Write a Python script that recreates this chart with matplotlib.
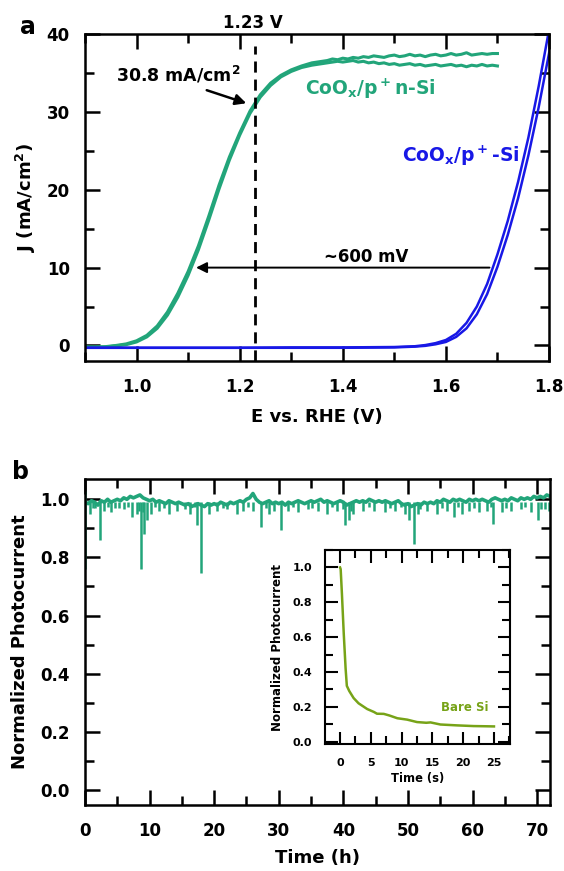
import numpy as np
import matplotlib
matplotlib.use("Agg")
import matplotlib.pyplot as plt
from matplotlib.ticker import MultipleLocator

plt.rcParams['font.family'] = ['DejaVu Sans']
plt.rcParams['font.weight'] = 'bold'
plt.rcParams['axes.labelweight'] = 'bold'
plt.rcParams['mathtext.fontset'] = 'dejavusans'
plt.rcParams['mathtext.default'] = 'bf'

green = '#22a57a'
blue = '#1818e6'
olive = '#77a318'

# --- panel a: J-E curves ---
rise_E = [0.90, 0.92, 0.94, 0.96, 0.98, 1.00, 1.02, 1.04, 1.06, 1.08, 1.10, 1.12,
          1.14, 1.16, 1.18, 1.20, 1.22, 1.24, 1.26, 1.28, 1.30, 1.32, 1.34, 1.36]
plateau_E = np.round(np.arange(1.37, 1.705, 0.01), 2)
green_E = np.concatenate([rise_E, plateau_E])

green_J_up = [-0.2, -0.2, -0.15, 0.0, 0.2, 0.6, 1.3, 2.5, 4.3, 6.7, 9.5, 12.8,
              16.6, 20.6, 24.2, 27.3, 30.1, 32.2, 33.7, 34.7, 35.4, 35.9, 36.3, 36.5,
              36.6, 36.8, 36.7, 36.9, 36.8, 37.0, 36.9, 37.1, 37.0, 37.2,
              37.1, 37.0, 37.2, 37.3, 37.1, 37.2, 37.4, 37.2, 37.3, 37.1,
              37.3, 37.4, 37.2, 37.3, 37.5, 37.3, 37.4, 37.6, 37.3, 37.4,
              37.5, 37.4, 37.5, 37.5]
green_J_dn = [-0.2, -0.2, -0.2, -0.05, 0.1, 0.45, 1.1, 2.2, 3.9, 6.2, 9.0, 12.3,
              16.1, 20.1, 23.8, 27.0, 29.8, 31.9, 33.4, 34.5, 35.2, 35.7, 36.0, 36.2,
              36.3, 36.4, 36.5, 36.4, 36.5, 36.6, 36.4, 36.5, 36.3, 36.4,
              36.2, 36.3, 36.1, 36.2, 36.0, 36.1, 36.2, 36.0, 36.1, 35.9,
              36.0, 36.1, 35.9, 36.0, 36.1, 35.9, 36.0, 35.8, 36.0, 35.9,
              36.1, 35.9, 36.0, 35.9]

blue_E = [0.90, 1.00, 1.10, 1.20, 1.30, 1.40, 1.50, 1.54, 1.56, 1.58, 1.60, 1.62,
          1.64, 1.66, 1.68, 1.70, 1.72, 1.74, 1.76, 1.78, 1.80, 1.82]
blue_J1 = [-0.3, -0.3, -0.3, -0.3, -0.25, -0.25, -0.2, -0.1, 0.05, 0.3, 0.7, 1.5,
           2.9, 5.0, 7.9, 11.7, 16.0, 21.0, 26.7, 33.3, 40.5, 48.0]
blue_J2 = [-0.3, -0.3, -0.3, -0.3, -0.3, -0.3, -0.25, -0.15, -0.05, 0.15, 0.45, 1.1,
           2.2, 4.0, 6.6, 10.1, 14.2, 18.9, 24.4, 30.6, 37.5, 45.0]

# --- panel b: stability ---
stab_t = np.arange(0, 72.01, 0.5)
stab_j = [0.99, 0.985, 0.995, 0.99, 0.98, 0.995, 0.99, 1.0, 0.99, 0.995,
          1.0, 0.995, 1.005, 1.0, 1.01, 1.005, 1.01, 1.015, 1.005, 1.0,
          0.995, 1.0, 0.99, 0.995, 0.99, 0.985, 0.995, 0.99, 0.985, 0.99,
          0.985, 0.98, 0.985, 0.975, 0.98, 0.985, 0.98, 0.975, 0.985, 0.98,
          0.985, 0.98, 0.99, 0.985, 0.98, 0.99, 0.985, 0.99, 0.995, 0.99,
          1.0, 1.005, 1.02, 1.0, 0.99, 0.985, 0.99, 0.995, 0.985, 0.99,
          0.985, 0.99, 0.98, 0.99, 0.985, 0.99, 0.995, 0.99, 0.985, 0.99,
          0.995, 0.99, 0.995, 1.0, 0.99, 0.995, 0.99, 0.985, 0.99, 0.995,
          0.99, 0.98, 0.985, 0.99, 0.995, 0.99, 0.995, 0.99, 1.0, 0.995,
          0.99, 0.995, 0.99, 0.995, 0.99, 0.985, 0.99, 0.995, 0.985, 0.98,
          0.985, 0.975, 0.98, 0.985, 0.98, 0.99, 0.985, 0.99, 0.985, 0.995,
          0.99, 1.0, 0.995, 0.99, 1.0, 0.995, 1.0, 0.995, 0.99, 1.0,
          0.995, 1.0, 0.995, 1.0, 0.995, 0.99, 1.0, 1.005, 1.0, 0.995,
          1.0, 0.995, 1.005, 1.0, 0.995, 1.005, 1.0, 1.005, 1.0, 1.01,
          1.005, 1.01, 1.005, 1.015, 1.01]

spike_t = [0.05, 0.8, 1.5, 2.3, 3.0, 4.0, 5.2, 6.0, 7.3, 8.0, 8.7, 9.2, 9.6,
           10.2, 11.5, 13.0, 14.3, 15.5, 16.2, 17.3, 18.0, 19.2, 20.5, 22.0,
           23.5, 24.5, 26.0, 27.3, 28.5, 29.2, 30.4, 31.5, 33.0, 34.5, 36.0,
           37.5, 39.0, 40.3, 40.8, 41.5, 43.0, 44.8, 46.5, 48.0, 49.5, 50.2,
           50.9, 51.5, 53.0, 54.5, 56.0, 57.2, 58.3, 59.5, 61.0, 62.2, 63.2,
           64.5, 66.0, 67.5, 69.0, 70.1, 71.3, 71.9,
           1.2, 3.5, 4.6, 6.6, 8.4, 9.0, 10.8, 12.2, 17.0, 21.3, 25.2, 28.0,
           32.2, 35.2, 38.3, 40.0, 41.2, 44.0, 47.2, 49.0, 51.8, 55.2, 57.8,
           60.3, 62.8, 65.2, 68.2, 70.6]
spike_lo = [0.76, 0.95, 0.97, 0.86, 0.96, 0.955, 0.97, 0.965, 0.94, 0.95, 0.76,
            0.88, 0.93, 0.95, 0.96, 0.95, 0.96, 0.965, 0.95, 0.91, 0.745, 0.95,
            0.96, 0.965, 0.95, 0.96, 0.96, 0.905, 0.95, 0.96, 0.895, 0.96, 0.955,
            0.965, 0.96, 0.95, 0.96, 0.91, 0.93, 0.95, 0.96, 0.96, 0.955, 0.96,
            0.95, 0.93, 0.845, 0.95, 0.96, 0.95, 0.96, 0.94, 0.95, 0.96, 0.955,
            0.96, 0.915, 0.955, 0.96, 0.965, 0.955, 0.93, 0.965, 0.96,
            0.97, 0.975, 0.97, 0.975, 0.96, 0.955, 0.975, 0.97, 0.975, 0.97,
            0.975, 0.97, 0.975, 0.97, 0.975, 0.965, 0.96, 0.975, 0.97, 0.975,
            0.965, 0.97, 0.975, 0.97, 0.975, 0.97, 0.975, 0.965]
spike_hi = [1.03] + [0.99] * (len(spike_t) - 1)

# --- inset: bare Si ---
bare_t = [0, 0.1, 0.3, 0.6, 0.9, 1.1, 1.5, 2.2, 3.0, 4.4, 5.5, 6.0, 7.1, 8.0,
          9.3, 10.9, 12.5, 14.0, 14.7, 16.3, 19.0, 21.7, 23.5, 25.0]
bare_j = [1.0, 0.99, 0.85, 0.62, 0.42, 0.32, 0.29, 0.25, 0.22, 0.187, 0.17, 0.16,
          0.159, 0.15, 0.134, 0.126, 0.112, 0.108, 0.11, 0.098, 0.093, 0.089,
          0.088, 0.087]


def style(ax, lsize=12, L=11, Lm=6.5, pad=11, padx=12, lw=1.8):
    for s in ax.spines.values():
        s.set_linewidth(lw)
    ax.tick_params(which='both', direction='in', top=True, right=True, width=lw)
    ax.tick_params(which='major', length=L, labelsize=lsize)
    ax.tick_params(which='minor', length=Lm)
    ax.tick_params(axis='y', pad=pad)
    ax.tick_params(axis='x', pad=padx)


fig = plt.figure(figsize=(5.64, 8.71), dpi=100)

# panel a
ax1 = fig.add_axes([0.1507, 0.5855, 0.8227, 0.3754])
ax1.plot(green_E, green_J_up, color=green, lw=2.2)
ax1.plot(green_E, green_J_dn, color=green, lw=2.2)
ax1.plot(blue_E, blue_J1, color=blue, lw=1.8)
ax1.plot(blue_E, blue_J2, color=blue, lw=1.8)
ax1.plot([1.23, 1.23], [-2, 38.5], color='k', lw=2, ls=(0, (4, 2.5)))
ax1.annotate('', xy=(1.11, 10), xytext=(1.69, 10),
             arrowprops=dict(arrowstyle='-|>', color='k', lw=1.4, mutation_scale=16))
ax1.annotate('', xy=(1.218, 31.0), xytext=(1.131, 32.9),
             arrowprops=dict(arrowstyle='-|>', color='k', lw=1.8, mutation_scale=16))
ax1.text(1.445, 11.3, '~600 mV', ha='center', va='center', fontsize=12)
ax1.text(1.08, 34.7, '30.8 mA/cm$^2$', ha='center', va='center', fontsize=12.5)
ax1.text(1.225, 41.4, '1.23 V', ha='center', va='center', fontsize=12, clip_on=False)
ax1.text(1.454, 32.9, 'CoO$_x$/p$^+$n-Si', color=green, ha='center', va='center', fontsize=13.5)
ax1.text(1.629, 24.4, 'CoO$_x$/p$^+$-Si', color=blue, ha='center', va='center', fontsize=13.5)
ax1.set_xlim(0.9, 1.8)
ax1.set_ylim(-2, 40)
ax1.xaxis.set_major_locator(MultipleLocator(0.2))
ax1.xaxis.set_minor_locator(MultipleLocator(0.1))
ax1.yaxis.set_major_locator(MultipleLocator(10))
ax1.yaxis.set_minor_locator(MultipleLocator(5))
style(ax1)
ax1.set_xlabel('E vs. RHE (V)', fontsize=13, labelpad=9)
ax1.set_ylabel('J (mA/cm$^2$)', fontsize=13, labelpad=6)
fig.text(28 / 564, 1 - 27 / 871, 'a', fontsize=17, ha='center', va='center')

# panel b
ax2 = fig.add_axes([0.1507, 0.0758, 0.8245, 0.3743])
ax2.plot(stab_t, stab_j, color=green, lw=2.6)
ax2.vlines(spike_t, spike_lo, spike_hi, color=green, lw=1.8)
ax2.set_xlim(0, 72)
ax2.set_ylim(-0.052, 1.07)
ax2.xaxis.set_major_locator(MultipleLocator(10))
ax2.xaxis.set_minor_locator(MultipleLocator(5))
ax2.yaxis.set_major_locator(MultipleLocator(0.2))
ax2.yaxis.set_minor_locator(MultipleLocator(0.1))
ax2.yaxis.set_major_formatter(plt.FormatStrFormatter('%.1f'))
style(ax2)
ax2.set_xlabel('Time (h)', fontsize=13, labelpad=7)
ax2.set_ylabel('Normalized Photocurrent', fontsize=13, labelpad=8)
fig.text(20 / 564, 1 - 472 / 871, 'b', fontsize=17, ha='center', va='center')

# inset
ax3 = fig.add_axes([0.5762, 0.1458, 0.328, 0.2227])
ax3.plot(bare_t, bare_j, color=olive, lw=1.8)
ax3.text(20.2, 0.197, 'Bare Si', color=olive, ha='center', va='center', fontsize=8.5)
ax3.set_xlim(-2.45, 27.6)
ax3.set_ylim(-0.014, 1.1)
ax3.xaxis.set_major_locator(MultipleLocator(5))
ax3.xaxis.set_minor_locator(MultipleLocator(2.5))
ax3.yaxis.set_major_locator(MultipleLocator(0.2))
ax3.yaxis.set_minor_locator(MultipleLocator(0.1))
ax3.yaxis.set_major_formatter(plt.FormatStrFormatter('%.1f'))
style(ax3, lsize=8, L=9, Lm=5.5, pad=9, padx=10, lw=1.5)
ax3.set_xlabel('Time (s)', fontsize=8.3, labelpad=3)
ax3.set_ylabel('Normalized Photocurrent', fontsize=8.5, labelpad=6)

fig.savefig('out.png', dpi=100)
